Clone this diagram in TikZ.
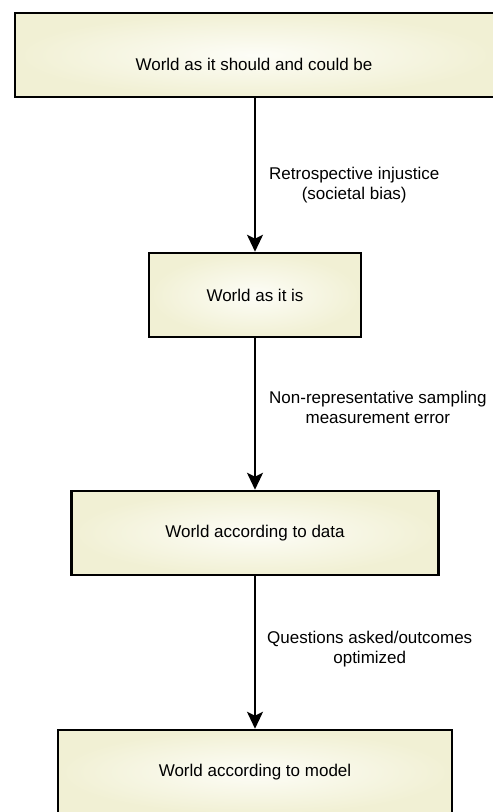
\documentclass[tikz,border=0pt]{standalone}
\usepackage{fontspec}
\setmainfont{Liberation Sans}
\usetikzlibrary{arrows.meta}
\definecolor{cream}{RGB}{241,240,212}
\definecolor{creamc}{RGB}{253,253,247}
\begin{document}
\begin{tikzpicture}[x=1pt,y=-1pt,
 box/.style={draw=black, line width=2.5pt, inner color=creamc, outer color=cream, rectangle, inner sep=0pt, minimum height=84pt, font=\fontsize{17}{20}\selectfont},
 lbl/.style={font=\fontsize{17}{20}\selectfont, align=center, inner sep=0pt, anchor=west},
 conn/.style={line width=2pt, -{Stealth[length=17pt,width=16pt,inset=4pt]}}]
\clip (0,0) rectangle (493,812);
\node[box, minimum width=480pt] (b1) at (255,55) {};
\node[font=\fontsize{17}{20}\selectfont, inner sep=0pt] (t1) at (254,64) {World as it should and could be};
\node[box, minimum width=212pt] (b2) at (255,295) {World as it is};
\node[box, minimum width=367pt] (b3) at (255,533) {World according to data};
\node[box, minimum width=394pt] (b4) at (255,772) {World according to model};
\draw[conn] (b1) -- (b2);
\draw[conn] (b2) -- (b3);
\draw[conn] (b3) -- (b4);
\node[lbl] (l1) at (269,185) {Retrospective injustice\\(societal bias)};
\node[lbl] (l2) at (269,407) {Non-representative sampling\\measurement error};
\node[lbl] (l3) at (267,649) {Questions asked/outcomes\\optimized};
\end{tikzpicture}
\end{document}
